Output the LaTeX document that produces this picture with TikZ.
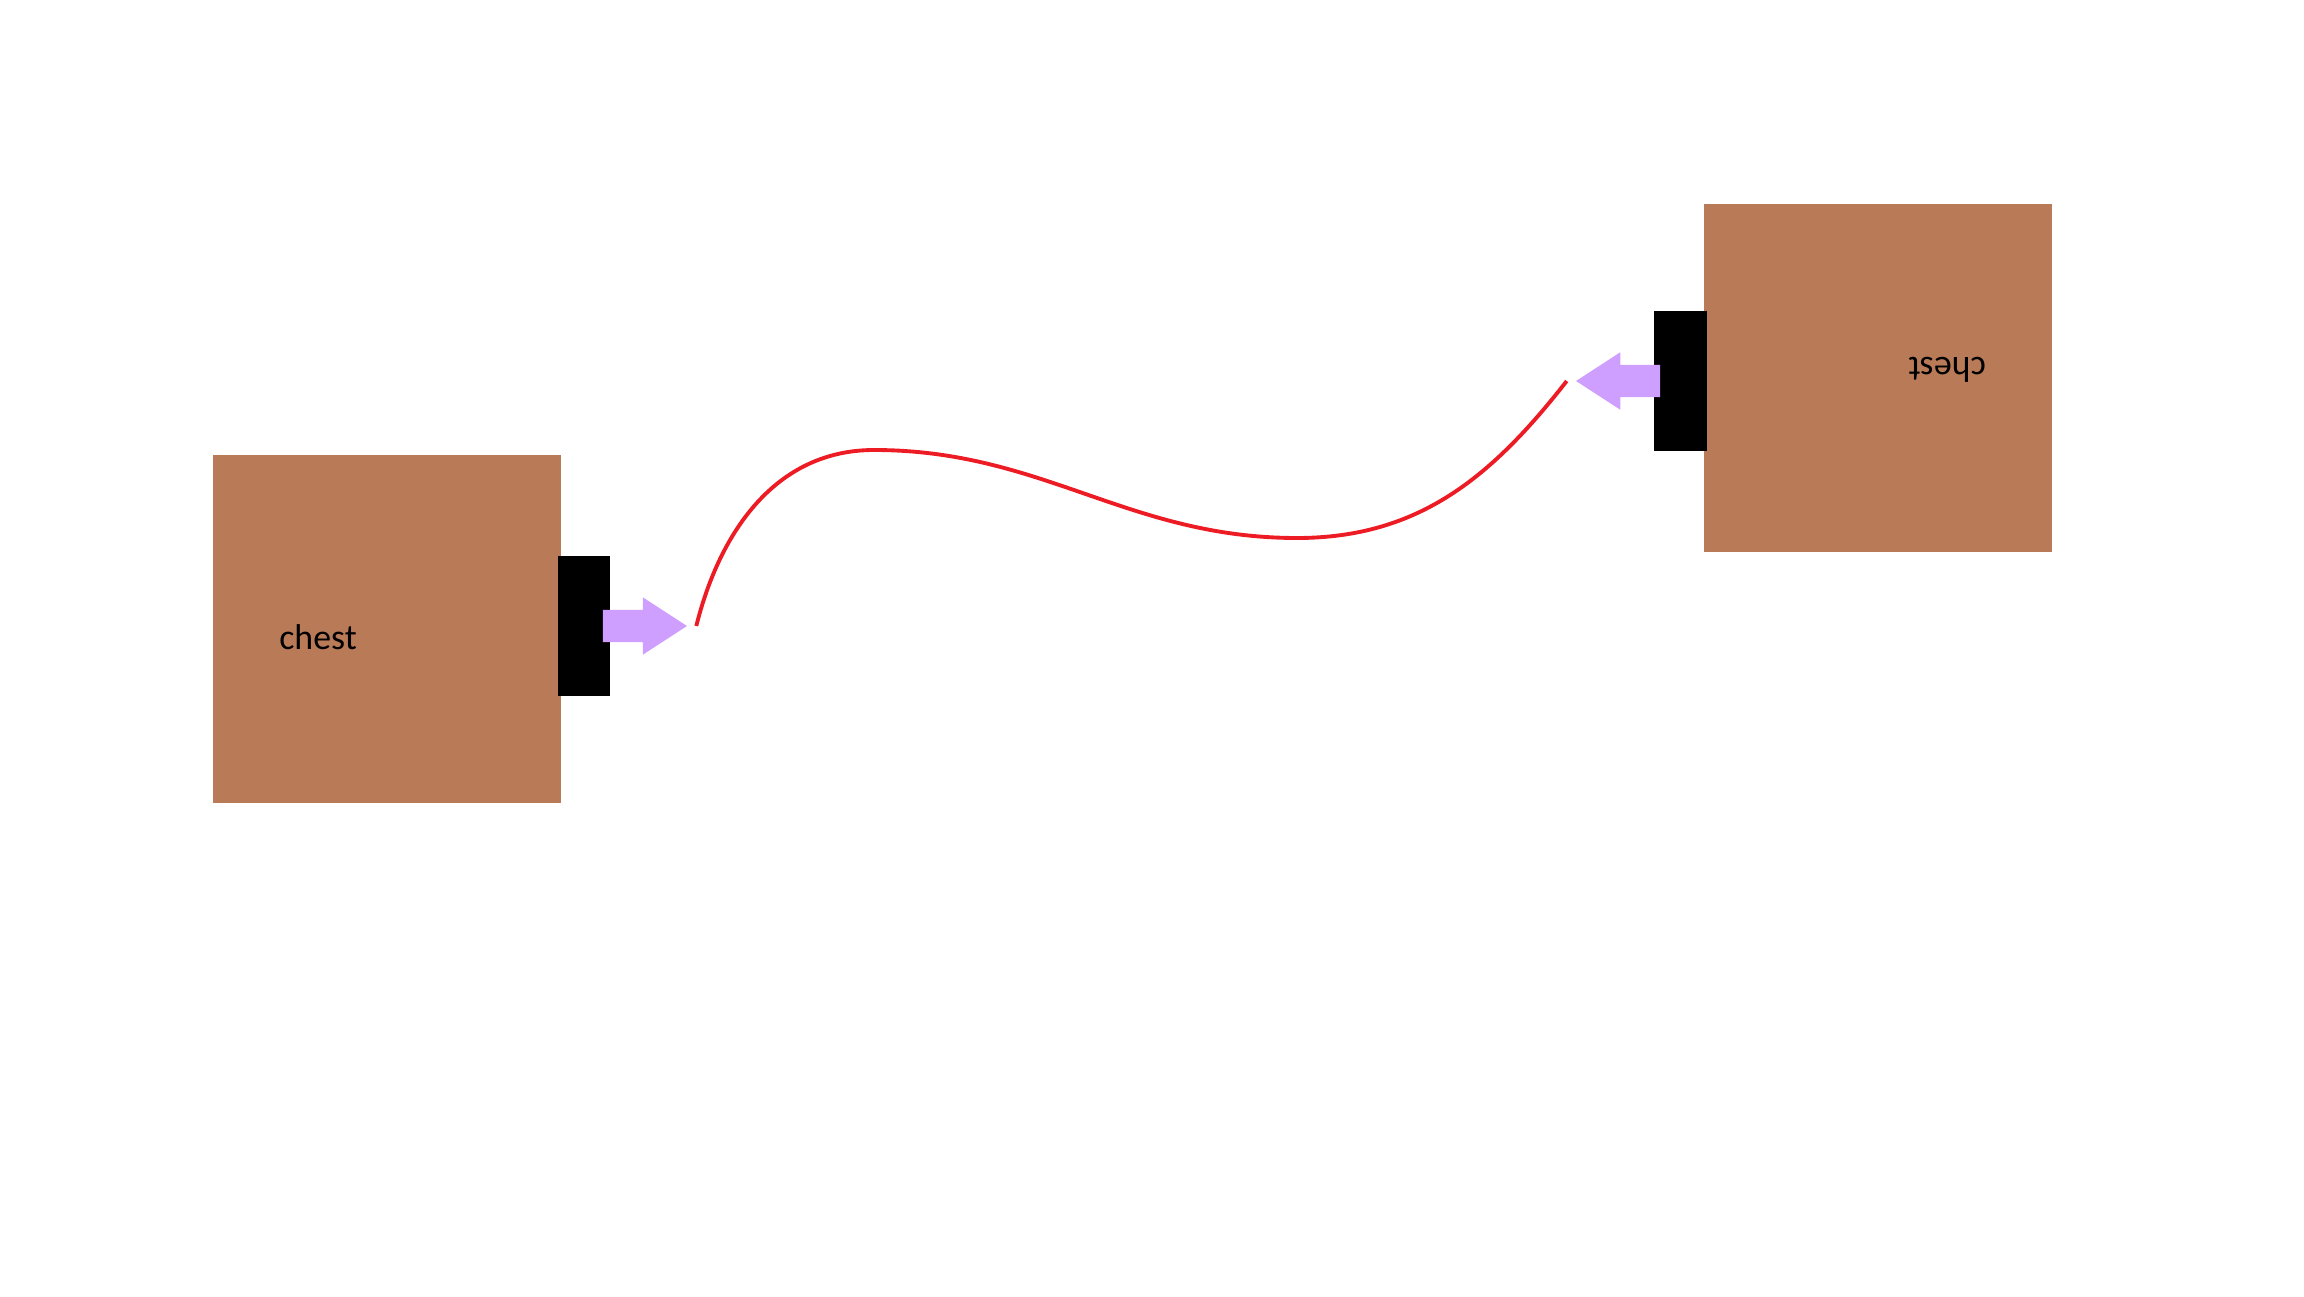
\documentclass[tikz,border=0pt]{standalone}
\usepackage{fontspec}
\setmainfont{Carlito}
\usepackage{xcolor}
\usetikzlibrary{positioning,calc,shapes.arrows}

\definecolor{chestbrown}{HTML}{B97A57}
\definecolor{lilac}{HTML}{CF9FFF}
\definecolor{wirered}{HTML}{ED1C24}

\begin{document}
\begin{tikzpicture}[
  x=0.01cm, y=0.01cm,
  font=\fontsize{10.2}{12}\selectfont,
  chest/.style={
    fill=chestbrown,
    inner sep=0pt,
    minimum width=3.48cm,
    minimum height=3.48cm
  },
  lock/.style={fill=black, inner sep=0pt, minimum width=0.52cm, minimum height=1.40cm},
  harrow/.style={
    single arrow,
    fill=lilac,
    inner xsep=0pt,
    inner ysep=0.155cm,
    minimum height=0.84cm,
    single arrow head extend=0.125cm,
    single arrow tip angle=66
  },
  label/.style={inner sep=0pt},
  wire/.style={draw=wirered, line width=1.1pt}
]
  \useasboundingbox (0,0) rectangle (2304,1296);

  % left chest
  \node[chest] (chestL) at (387,667) {};
  \node[lock, right=-0.05cm of chestL, yshift=0.03cm] (lockL) {};
  \node[harrow, right=-0.08cm of lockL] (arrL) {};
  \node[label] (txtL) at ($(chestL.center)+(-69,-8)$) {chest};

  % right chest, turned round
  \node[chest] (chestR) at (1878,918) {};
  \node[lock, left=-0.04cm of chestR, yshift=-0.03cm] (lockR) {};
  \node[harrow, shape border rotate=180, left=-0.07cm of lockR] (arrR) {};
  \node[label, rotate=180] (txtR) at ($(chestR.center)+(69,8)$) {chest};

  \coordinate (wA) at ($(arrL.tip)+(8,0)$);
  \coordinate (wB) at ($(arrR.tip)+(-8,0)$);
  \draw[wire] (wA) to[out=76, in=180] (874,846)
    to[out=0, in=180] (1297,758)
    to[out=0, in=-128] (wB);
\end{tikzpicture}
\end{document}
